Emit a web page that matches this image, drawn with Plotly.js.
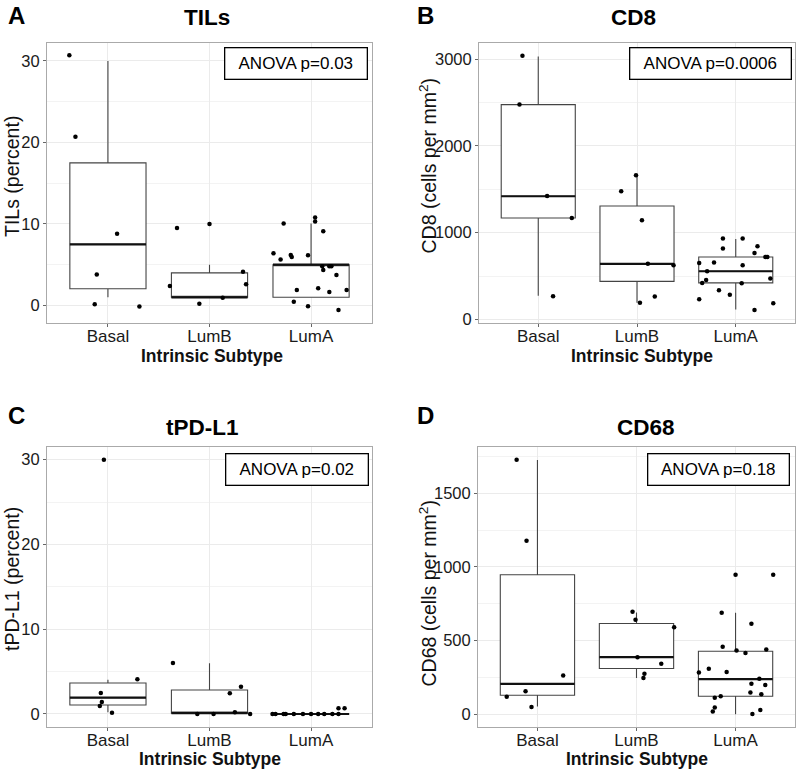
<!DOCTYPE html>
<html>
<head>
<meta charset="utf-8">
<script src="https://cdn.plot.ly/plotly-3.0.1.min.js"></script>
<style>
  body { margin: 0; background: white; }
  #chart { width: 800px; height: 773px; }
</style>
</head>
<body>
<div id="chart"></div>
<script>
// categories on a numeric axis: Basal=1, LumB=2, LumA=3
var groups = ['Basal', 'LumB', 'LumA'];
var groupPos = [1, 2, 3];

// --- A: TILs ---
var tilsQ1 = [2.05, 1.0, 1.0];
var tilsMed = [7.5, 1.0, 5.0];
var tilsQ3 = [17.5, 4.0, 5.0];
var tilsLo = [1.0, 1.0, 1.0];
var tilsHi = [30.0, 5.0, 10.05];
var tilsX = [0.62, 0.68, 1.09, 0.89, 0.87, 1.31,
  1.68, 2.0, 1.61, 1.9, 2.13, 2.33, 2.36,
  2.63, 2.7, 2.73, 2.8, 2.81, 2.86, 2.83, 2.97, 2.97, 3.04, 3.04, 3.12, 3.11, 3.12, 3.07, 3.18, 3.2, 3.18, 3.25, 3.27, 3.35];
var tilsY = [30.7, 20.7, 8.8, 3.8, 0.15, -0.12,
  9.5, 10.0, 2.4, 0.2, 0.95, 4.15, 2.6,
  6.4, 5.65, 10.05, 6.2, 5.95, 1.9, 0.45, 6.15, -0.08, 10.8, 10.3, 9.1, 4.8, 4.35, 2.1, 4.8, 4.8, 1.65, 3.75, -0.55, 1.9];

// --- B: CD8 ---
var cd8Q1 = [1170, 440, 422];
var cd8Med = [1420, 640, 556];
var cd8Q3 = [2475, 1308, 720];
var cd8Lo = [275, 192, 115];
var cd8Hi = [3030, 1660, 928];
var cd8X = [0.84, 0.81, 1.09, 1.34, 1.15,
  1.84, 1.99, 2.05, 2.11, 2.37, 2.03, 2.18,
  2.63, 2.66, 2.7, 2.71, 2.78, 2.87, 2.87, 2.83, 2.94, 3.07, 3.07, 3.06, 3.19, 3.22, 3.19, 3.3, 3.32, 3.35, 3.38, 2.63];
var cd8Y = [3038, 2478, 1423, 1170, 268,
  1477, 1661, 1143, 641, 625, 192, 265,
  652, 422, 456, 556, 656, 817, 932, 338, 284, 932, 625, 418, 111, 844, 767, 721, 721, 472, 188, 234];

// --- C: tPD-L1 ---
var pdQ1 = [1.06, 0.1, 0];
var pdMed = [1.93, 0.1, 0];
var pdQ3 = [3.66, 2.83, 0];
var pdLo = [0.2, 0.1, 0];
var pdHi = [4.05, 6.0, 0];
var pdX = [0.96, 0.93, 0.94, 0.92, 1.04, 1.29,
  1.64, 2.2, 2.31, 1.88, 2.04, 2.25, 2.4,
  2.62, 2.65, 2.73, 2.75, 2.83, 2.92, 3.0, 3.07, 3.13, 3.21, 3.27, 3.27, 3.33];
var pdY = [30.0, 2.48, 1.42, 0.94, 0.16, 4.09,
  6.02, 2.44, 3.22, 0, 0, 0.2, 0,
  0, 0, 0, 0, 0, 0, 0, 0, 0, 0, 0, 0.67, 0.67];

// --- D: CD68 ---
var cd68Q1 = [129, 310, 122];
var cd68Med = [206, 387, 238];
var cd68Q3 = [947, 616, 428];
var cd68Lo = [52, 245, 0];
var cd68Hi = [1727, 691, 689];
var cd68X = [0.79, 0.89, 0.69, 0.88, 0.94, 1.26,
  1.96, 1.99, 2.38, 2.01, 2.25, 2.08, 2.07,
  3.0, 3.38, 2.86, 3.16, 2.87, 3.01, 3.1, 3.31, 2.63, 2.73, 2.91, 3.24, 3.16, 3.3, 3.15, 3.26, 2.85, 2.79, 2.79, 2.77, 3.25, 3.17];
var cd68Y = [1729, 1178, 118, 156, 48, 263,
  696, 641, 591, 387, 342, 274, 245,
  947, 947, 689, 614, 458, 433, 415, 440, 283, 308, 286, 240, 206, 199, 147, 136, 122, 111, 45, 18, 29, 2];

var pvals = ['ANOVA p=0.03', 'ANOVA p=0.0006', 'ANOVA p=0.02', 'ANOVA p=0.18'];
var titles = ['TILs', 'CD8', 'tPD-L1', 'CD68'];
var letters = ['A', 'B', 'C', 'D'];
var yTitles = ['TILs (percent)', 'CD8 (cells per mm<sup>2</sup>)', 'tPD-L1 (percent)', 'CD68 (cells per mm<sup>2</sup>)'];
var xTitle = 'Intrinsic Subtype';

var FONT = 'Liberation Sans, Arial, sans-serif';
var boxW = 0.75;

function panel(n, q1, med, q3, lo, hi, px, py) {
  var xa = n === 1 ? 'x' : 'x' + n;
  var ya = n === 1 ? 'y' : 'y' + n;
  var box = {
    type: 'box', x: groupPos, q1: q1, median: med, q3: q3,
    lowerfence: lo, upperfence: hi, width: boxW,
    fillcolor: 'white', line: {color: '#444', width: 1.1},
    whiskerwidth: 0, boxpoints: false, hoverinfo: 'skip',
    showlegend: false, xaxis: xa, yaxis: ya
  };
  // thicker median bar like ggplot
  var mx = [], my = [];
  for (var i = 0; i < groupPos.length; i++) {
    mx.push(groupPos[i] - boxW / 2, groupPos[i] + boxW / 2, null);
    my.push(med[i], med[i], null);
  }
  var medLine = {
    type: 'scatter', mode: 'lines', x: mx, y: my,
    line: {color: '#111', width: 2.2}, hoverinfo: 'skip',
    showlegend: false, xaxis: xa, yaxis: ya
  };
  var pts = {
    type: 'scatter', mode: 'markers', x: px, y: py,
    marker: {color: 'black', size: 4.5}, showlegend: false,
    xaxis: xa, yaxis: ya
  };
  return [box, medLine, pts];
}

var data = [].concat(
  panel(1, tilsQ1, tilsMed, tilsQ3, tilsLo, tilsHi, tilsX, tilsY),
  panel(2, cd8Q1, cd8Med, cd8Q3, cd8Lo, cd8Hi, cd8X, cd8Y),
  panel(3, pdQ1, pdMed, pdQ3, pdLo, pdHi, pdX, pdY),
  panel(4, cd68Q1, cd68Med, cd68Q3, cd68Lo, cd68Hi, cd68X, cd68Y)
);

function xAxis(dom, anchor) {
  return {
    domain: dom, anchor: anchor, range: [0.4, 3.6],
    tickvals: groupPos, ticktext: groups,
    ticks: 'outside', ticklen: 3, tickcolor: '#666', tickwidth: 1,
    ticklabelstandoff: -5,
    tickfont: {family: FONT, size: 17, color: '#1a1a1a'},
    showgrid: true, gridcolor: '#ebebeb', gridwidth: 1,
    showline: true, mirror: true, linecolor: '#aaaaaa', linewidth: 1,
    zeroline: false
  };
}
function yAxis(dom, anchor, range, dtick) {
  return {
    domain: dom, anchor: anchor, range: range, dtick: dtick,
    ticks: 'outside', ticklen: 3, tickcolor: '#666', tickwidth: 1,
    tickfont: {family: FONT, size: 16.5, color: '#1a1a1a'},
    showgrid: true, gridcolor: '#ebebeb', gridwidth: 1,
    minor: {dtick: dtick / 2, showgrid: true, gridcolor: '#f3f3f3', gridwidth: 1},
    showline: true, mirror: true, linecolor: '#aaaaaa', linewidth: 1,
    zeroline: false
  };
}

var topDom = [1 - 323 / 773, 1 - 43 / 773];
var botDom = [1 - 726.7 / 773, 1 - 447 / 773];

var layout = {
  width: 800, height: 773,
  margin: {l: 0, r: 0, t: 0, b: 0},
  paper_bgcolor: 'white', plot_bgcolor: 'white',
  font: {family: FONT},
  xaxis: xAxis([47 / 800, 372 / 800], 'y'),
  yaxis: yAxis(topDom, 'x', [-2.15, 32.2], 10),
  xaxis2: xAxis([479 / 800, 795 / 800], 'y2'),
  yaxis2: yAxis(topDom, 'x2', [-40, 3185], 1000),
  xaxis3: xAxis([47 / 800, 372 / 800], 'y3'),
  yaxis3: yAxis(botDom, 'x3', [-1.5, 31.5], 10),
  xaxis4: xAxis([478 / 800, 795 / 800], 'y4'),
  yaxis4: yAxis(botDom, 'x4', [-85, 1815], 500),
  annotations: []
};

// text positions in pixels
var titlePos = [[207, 18], [633, 18], [202, 427], [646, 427]];
var letterPos = [[16, 15], [425, 15], [16, 415], [425, 415]];
var yTitlePos = [[12, 177], [427.5, 166], [12, 579], [427.5, 594]];
var xTitlePos = [[211.5, 356], [641.5, 356], [210, 759], [637, 759]];
// ANOVA boxes: [x0, y0, x1, y1]
var pBoxes = [[224, 48, 367, 80], [629, 48, 791, 80], [225, 453, 368, 485], [647, 453, 789, 485]];

function at(p) { return {x: p[0] / 800, y: 1 - p[1] / 773}; }

for (var k = 0; k < 4; k++) {
  var t = at(titlePos[k]), l = at(letterPos[k]), yt = at(yTitlePos[k]), xt = at(xTitlePos[k]);
  layout.annotations.push({
    xref: 'paper', yref: 'paper', x: t.x, y: t.y,
    text: '<b>' + titles[k] + '</b>', showarrow: false,
    font: {family: FONT, size: 22.5, color: 'black'}, xanchor: 'center', yanchor: 'middle'
  });
  layout.annotations.push({
    xref: 'paper', yref: 'paper', x: l.x, y: l.y,
    text: '<b>' + letters[k] + '</b>', showarrow: false,
    font: {family: FONT, size: 24, color: 'black'}, xanchor: 'center', yanchor: 'middle'
  });
  layout.annotations.push({
    xref: 'paper', yref: 'paper', x: yt.x, y: yt.y, textangle: -90,
    text: yTitles[k], showarrow: false,
    font: {family: FONT, size: 19.5, color: '#111'}, xanchor: 'center', yanchor: 'middle'
  });
  layout.annotations.push({
    xref: 'paper', yref: 'paper', x: xt.x, y: xt.y,
    text: '<b>' + xTitle + '</b>', showarrow: false,
    font: {family: FONT, size: 17.5, color: '#111'}, xanchor: 'center', yanchor: 'middle'
  });
  var b = pBoxes[k];
  layout.annotations.push({
    xref: 'paper', yref: 'paper',
    x: (b[0] + b[2]) / 2 / 800, y: 1 - (b[1] + b[3]) / 2 / 773,
    text: pvals[k], showarrow: false,
    font: {family: FONT, size: 17, color: 'black'},
    xanchor: 'center', yanchor: 'middle',
    width: b[2] - b[0] - 2, height: b[3] - b[1] - 2, borderpad: 0,
    bordercolor: 'black', borderwidth: 1.3, bgcolor: 'white'
  });
}

Plotly.newPlot('chart', data, layout, {displayModeBar: false, staticPlot: true});
</script>
</body>
</html>
